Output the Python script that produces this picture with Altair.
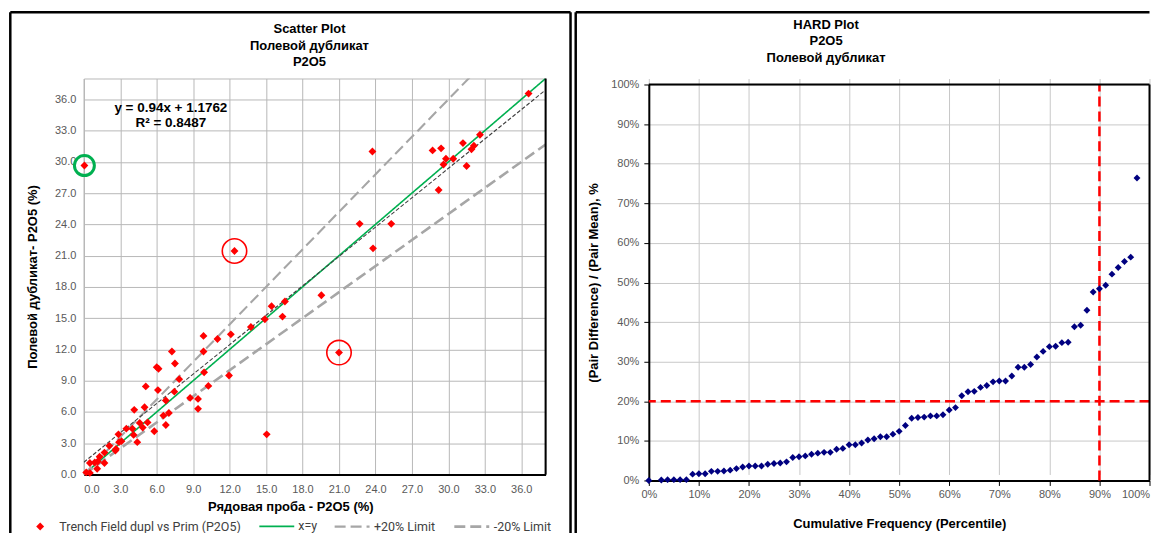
import altair as alt
import pandas as pd

# ---------------- data: scatter (primary vs field duplicate, P2O5 %) ----------------
series_label = "Trench Field dupl vs Prim (P2O5)"
prim = [0.2, 0.5, 0.5, 0.9, 1.1, 1.15, 1.3, 1.7, 1.7, 2.1,
        2.6, 2.65, 2.85, 2.9, 3.1, 3.5, 4.0, 4.1, 4.15, 4.4,
        4.6, 4.85, 5.0, 5.1, 5.25, 5.8, 6.0, 6.15, 6.1, 6.55,
        6.75, 6.75, 7.0, 7.25, 7.45, 7.5, 7.85, 8.75, 9.4, 9.4,
        9.85, 9.85, 9.9, 10.25, 11.0, 11.95, 12.1, 12.4, 13.75, 14.9,
        15.05, 15.45, 16.35, 16.55, 19.55, 21.0, 22.7, 23.75, 23.8, 25.3,
        28.7, 29.2, 29.4, 29.6, 29.8, 30.4, 31.2, 31.5, 31.9, 32.1,
        32.6, 36.6, 0.05]
dupl = [0.2, 0.15, 1.1, 1.15, 0.55, 1.25, 1.7, 1.1, 2.1, 2.75,
        2.3, 2.45, 3.85, 3.1, 3.2, 4.4, 4.4, 3.8, 6.2, 3.1,
        4.95, 4.5, 6.45, 8.45, 5.0, 4.15, 10.3, 10.15, 8.1, 5.65,
        7.1, 4.75, 5.9, 11.8, 7.95, 10.65, 9.15, 7.35, 7.25, 6.3,
        13.3, 11.8, 9.8, 8.5, 13.0, 9.5, 13.45, 21.45, 14.15, 14.9,
        3.85, 16.15, 15.15, 16.6, 17.2, 11.7, 24.05, 31.0, 21.7, 24.05,
        31.1, 27.3, 31.3, 29.75, 30.3, 30.3, 31.8, 29.6, 31.2, 31.55,
        32.6, 36.55, 29.65]
green_idx = [72]
red_idx = [47, 55]

limit_names = ["x=y", "+20% Limit", "-20% Limit"]
limit_slopes = [1.0, 1.2, 1 / 1.2]
line_span = [0.0, 38.0]
trend_slope = 0.94
trend_icpt = 1.1762
eq_lines = ["y = 0.94x + 1.1762", "R\u00b2 = 0.8487"]
scatter_ticks = [0, 3, 6, 9, 12, 15, 18, 21, 24, 27, 30, 33, 36]
scatter_title = ["Scatter Plot", "Полевой дубликат", "P2O5"]

# ---------------- data: HARD plot ----------------
hard_pct = [0, 2.5, 3.75, 5.0, 6.25, 7.5, 8.75, 10.0, 11.25, 12.5,
            13.75, 15.0, 16.25, 17.5, 18.75, 20.0, 21.25, 22.5, 23.75, 25.0,
            26.25, 27.5, 28.75, 30.0, 31.25, 32.5, 33.75, 35.0, 36.25, 37.5,
            38.75, 40.0, 41.25, 42.5, 43.75, 45.0, 46.25, 47.5, 48.75, 50.0,
            51.25, 52.5, 53.75, 55.0, 56.25, 57.5, 58.75, 60.0, 61.25, 62.5,
            63.75, 65.0, 66.25, 67.5, 68.75, 70.0, 71.25, 72.5, 73.75, 75.0,
            76.25, 77.5, 78.75, 80.0, 81.25, 82.5, 83.75, 85.0, 86.25, 87.5,
            88.75, 90.0, 91.25, 92.5, 93.75, 95.0, 96.25, 97.5]
hard_val = [0, 0.1, 0.2, 0.2, 0.2, 0.2, 1.6, 1.7, 1.7, 2.3,
            2.3, 2.4, 2.6, 3.0, 3.4, 3.65, 3.65, 3.65, 4.1, 4.3,
            4.4, 4.7, 5.8, 6.0, 6.2, 6.6, 6.9, 7.1, 7.1, 7.9,
            8.1, 9.0, 9.0, 9.45, 10.2, 10.55, 11.05, 11.05, 11.7, 12.4,
            13.9, 15.7, 15.9, 16.0, 16.3, 16.3, 16.6, 17.8, 18.4, 21.4,
            22.4, 22.5, 23.5, 24.0, 24.9, 25.1, 25.1, 26.4, 28.6, 28.6,
            29.3, 31.2, 32.6, 33.8, 33.9, 34.8, 34.9, 38.8, 39.2, 43.0,
            47.6, 48.4, 49.3, 52.1, 53.8, 55.3, 56.4, 76.4]
hard_ticks = [0, 10, 20, 30, 40, 50, 60, 70, 80, 90, 100]
hard_limit_y = 20
hard_limit_x = 90
hard_title = ["HARD Plot", "P2O5", "Полевой дубликат"]

# ---------------- styles ----------------
FONT = "Liberation Sans"
LEG_FONT = "Roboto"
LEG_SIZE = 12.5
LBL = "#595959"
GRID_L = "#b8b8b8"
GRID_R = "#c8c8c8"
FRAME_W = 2.5
FRAME_TOP = -66.5
FRAME_BOT = 462

one = pd.DataFrame({"k": [0]})
scatter_df = pd.DataFrame({"prim": prim, "dupl": dupl, "series": series_label})
green_df = scatter_df.iloc[green_idx]
red_df = scatter_df.iloc[red_idx]
lim_df = pd.DataFrame(
    [{"prim": xv, "dupl": s * xv, "series": n}
     for n, s in zip(limit_names, limit_slopes) for xv in line_span]
)
trend_df = pd.DataFrame({"prim": line_span,
                         "dupl": [trend_slope * v + trend_icpt for v in line_span]})

xs = alt.Scale(domain=[0, 38], nice=False, zero=False)
ys = alt.Scale(domain=[0, 38], nice=False, zero=False)

x_axis = alt.Axis(values=scatter_ticks, tickCount=40, format=".1f",
                  title="Рядовая проба - P2O5 (%)",
                  grid=True, gridColor=GRID_L, gridWidth=1, ticks=False, labelPadding=9,
                  labelOverlap=False, domainColor="black", domainWidth=2,
                  labelFont=FONT, labelFontSize=11, labelColor=LBL,
                  titleFont=FONT, titleFontSize=13, titleFontWeight="bold", titleColor="black",
                  titleX=207, titleY=32, titleBaseline="middle")
y_axis = alt.Axis(values=scatter_ticks, tickCount=40, format=".1f",
                  title="Полевой дубликат- P2O5 (%)",
                  grid=True, gridColor=GRID_L, gridWidth=1, ticks=False, labelPadding=8,
                  labelOverlap=False, domainColor=GRID_L, domainWidth=1,
                  labelFont=FONT, labelFontSize=11, labelColor=LBL,
                  titleFont=FONT, titleFontSize=13, titleFontWeight="bold", titleColor="black",
                  titleX=-51.7, titleBaseline="middle")

pts_legend = alt.Legend(orient="none", legendX=-50, legendY=443, direction="horizontal",
                        title=None, symbolSize=64, symbolFillColor="#ff0000",
                        symbolStrokeColor="#ff0000", symbolStrokeWidth=0,
                        labelFont=LEG_FONT, labelFontSize=LEG_SIZE, labelColor="#404040",
                        labelOffset=13, labelLimit=400)
line_legend = alt.Legend(orient="none", legendX=175, legendY=430, direction="horizontal",
                         title=None, symbolSize=1225, symbolStrokeWidth=2.2,
                         labelFont=LEG_FONT, labelFontSize=LEG_SIZE, labelColor="#404040",
                         labelOffset=3, columnPadding=13, labelLimit=400)

lim = alt.Chart(lim_df).mark_line(clip=True).encode(
    x=alt.X("prim:Q", scale=xs, axis=x_axis),
    y=alt.Y("dupl:Q", scale=ys, axis=y_axis),
    color=alt.Color("series:N", scale=alt.Scale(domain=limit_names,
                    range=["#00b050", "#a6a6a6", "#a6a6a6"]), legend=line_legend),
    strokeDash=alt.StrokeDash("series:N", scale=alt.Scale(domain=limit_names,
                              range=[[1, 0], [11, 5], [11, 5]]), legend=line_legend),
    strokeWidth=alt.StrokeWidth("series:N", scale=alt.Scale(domain=limit_names,
                                range=[1.6, 2.6, 2.6]), legend=None),
)

trend = alt.Chart(trend_df).mark_line(color="#404040", strokeDash=[4, 2], strokeWidth=1.1,
                                      clip=True).encode(
    x=alt.X("prim:Q", scale=xs), y=alt.Y("dupl:Q", scale=ys))

pts = alt.Chart(scatter_df).mark_point(filled=True, size=62, color="#ff0000", opacity=1,
                                       strokeWidth=0).encode(
    x=alt.X("prim:Q", scale=xs),
    y=alt.Y("dupl:Q", scale=ys),
    shape=alt.Shape("series:N", scale=alt.Scale(domain=[series_label], range=["diamond"]),
                    legend=pts_legend),
)

green_c = alt.Chart(green_df).mark_point(shape="circle", filled=False, size=400,
                                         strokeWidth=3, color="#00b050", opacity=1).encode(
    x=alt.X("prim:Q", scale=xs), y=alt.Y("dupl:Q", scale=ys))
red_c = alt.Chart(red_df).mark_point(shape="circle", filled=False, size=600,
                                     strokeWidth=1.6, color="#ff0000", opacity=1).encode(
    x=alt.X("prim:Q", scale=xs), y=alt.Y("dupl:Q", scale=ys))

right_border = alt.Chart(one).mark_rule(color="black", strokeWidth=2).encode(
    x=alt.datum(38))


def text_at(txt, x, y, size=13, weight="bold"):
    return alt.Chart(one).mark_text(text=txt, font=FONT, fontSize=size, fontWeight=weight,
                                    color="black", align="center", baseline="middle").encode(
        x=alt.value(x), y=alt.value(y))


def frame_v(x, y1, y2):
    return alt.Chart(one).mark_rule(color="black", strokeWidth=FRAME_W).encode(
        x=alt.value(x), y=alt.value(y1), y2=alt.value(y2))


def frame_h(x1, x2, y):
    return alt.Chart(one).mark_rule(color="black", strokeWidth=FRAME_W).encode(
        x=alt.value(x1), x2=alt.value(x2), y=alt.value(y))


left = alt.layer(
    lim, trend, pts, green_c, red_c, right_border,
    text_at(eq_lines[0], 87.3, 30, 13.5), text_at(eq_lines[1], 87.3, 45, 13.5),
    text_at(scatter_title[0], 226.3, -49.7), text_at(scatter_title[1], 226.3, -32.7),
    text_at(scatter_title[2], 226.3, -16.7),
    frame_v(-73.7, FRAME_TOP, FRAME_BOT), frame_v(488, FRAME_TOP, FRAME_BOT),
    frame_h(-73.7, 488, FRAME_TOP),
).properties(
    width=463, height=397,
    view=alt.ViewBackground(stroke=GRID_L, strokeWidth=1),
)

# ---------------- HARD plot ----------------
# plot area sits 6px lower than the scatter's; the y range starts 6px below the view top
hard_df = pd.DataFrame({"pct": hard_pct, "val": hard_val})
hx = alt.Scale(domain=[0, 100], nice=False, zero=False)
hy = alt.Scale(domain=[0, 100], range=[403, 6], nice=False, zero=False)

hx_axis = alt.Axis(values=hard_ticks, tickCount=40, labelExpr="datum.value + '%'", grid=True,
                   gridColor=GRID_R, tickSize=5, tickColor="black", labelPadding=3,
                   labelOverlap=False, domainColor="black", domainWidth=2,
                   labelAlign={"condition": {"test": "datum.value >= 100", "value": "right"},
                               "value": "center"},
                   labelFont=FONT, labelFontSize=11, labelColor=LBL,
                   title="Cumulative Frequency (Percentile)",
                   titleFont=FONT, titleFontSize=13, titleFontWeight="bold", titleColor="black",
                   titleY=42.7, titleBaseline="middle")
hy_axis = alt.Axis(values=hard_ticks, tickCount=40, labelExpr="datum.value + '%'", grid=True,
                   gridColor=GRID_R, tickSize=5, tickColor="black", labelPadding=5,
                   labelOverlap=False, domainColor="black", domainWidth=2,
                   labelFont=FONT, labelFontSize=11, labelColor=LBL,
                   title="(Pair Difference) / (Pair Mean), %",
                   titleFont=FONT, titleFontSize=13, titleFontWeight="bold", titleColor="black",
                   titleX=-55.3, titleBaseline="middle")

hpts = alt.Chart(hard_df).mark_point(shape="diamond", filled=True, size=48, color="#000080",
                                     opacity=1, strokeWidth=0).encode(
    x=alt.X("pct:Q", scale=hx, axis=hx_axis),
    y=alt.Y("val:Q", scale=hy, axis=hy_axis),
)
h_rule = alt.Chart(one).mark_rule(color="#ff0000", strokeDash=[10, 5],
                                  strokeWidth=2.5).encode(y=alt.datum(hard_limit_y))
v_rule = alt.Chart(one).mark_rule(color="#ff0000", strokeDash=[10, 5],
                                  strokeWidth=2.5).encode(
    x=alt.datum(hard_limit_x), y=alt.datum(0), y2=alt.datum(100))
top_border = alt.Chart(one).mark_rule(color="black", strokeWidth=2).encode(
    y=alt.datum(100))
r_border = alt.Chart(one).mark_rule(color="black", strokeWidth=2).encode(
    x=alt.datum(100), y=alt.datum(0), y2=alt.datum(100))

right = alt.layer(
    h_rule, v_rule, hpts, top_border, r_border,
    text_at(hard_title[0], 177.7, -53.7), text_at(hard_title[1], 177.7, -37.7),
    text_at(hard_title[2], 177.7, -20.7),
    frame_v(-73.3, FRAME_TOP, FRAME_BOT), frame_h(-73.3, 502, FRAME_TOP),
).properties(
    width=502, height=403,
    view=alt.ViewBackground(stroke="transparent", strokeWidth=0),
)

chart = alt.hconcat(left, right, spacing=1.5).properties(
    padding={"left": 0, "top": 1, "right": 0, "bottom": 0},
    background="white",
)

chart.save("out.html", embed_options={"renderer": "svg", "actions": False})
